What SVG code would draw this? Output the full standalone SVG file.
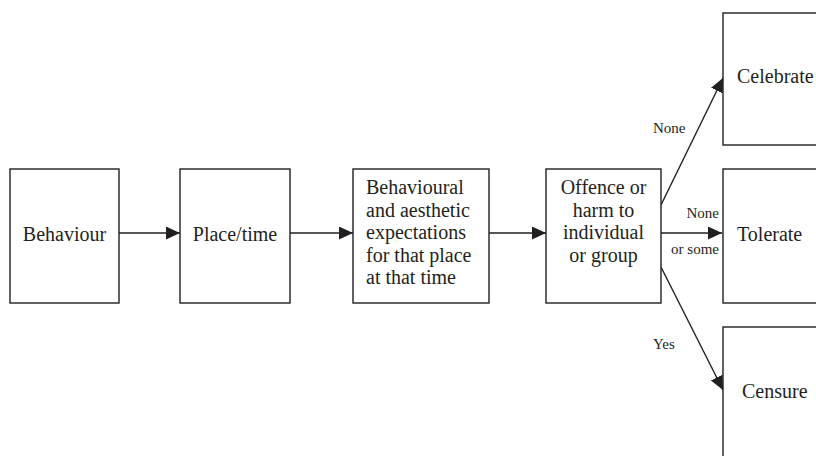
<svg xmlns="http://www.w3.org/2000/svg" width="816" height="456" viewBox="0 0 816 456">
<style>
.box{fill:#fff;stroke:#231f20;stroke-width:1.4}
.t{font-family:"Liberation Serif","Times New Roman",serif;font-size:20px;fill:#231f20}
.s{font-family:"Liberation Serif","Times New Roman",serif;font-size:15px;fill:#231f20}
.c{fill:none;stroke:#231f20;stroke-width:1.4}
</style>
<defs>
<marker id="ah" markerUnits="userSpaceOnUse" markerWidth="15" markerHeight="14" refX="14" refY="6.5" orient="auto">
<path d="M0,0 L14,6.5 L0,13 z" fill="#231f20"/>
</marker>
</defs>
<rect width="816" height="456" fill="#fff"/>
<g id="connectors">
<line class="c" x1="119" y1="233" x2="180" y2="233" marker-end="url(#ah)"/>
<line class="c" x1="290" y1="233" x2="353" y2="233" marker-end="url(#ah)"/>
<line class="c" x1="489" y1="233" x2="546" y2="233" marker-end="url(#ah)"/>
<line class="c" x1="661" y1="233" x2="722" y2="233" marker-end="url(#ah)"/>
<line class="c" x1="661" y1="205" x2="723" y2="78" marker-end="url(#ah)"/>
<line class="c" x1="661" y1="267" x2="723" y2="390" marker-end="url(#ah)"/>
<text class="s" x="653" y="133">None</text>
<text class="s" x="719" y="218" text-anchor="end">None</text>
<text class="s" x="719" y="254" text-anchor="end">or some</text>
<text class="s" x="653" y="349">Yes</text>
</g>
<g id="behaviour">
<rect class="box" x="10" y="169" width="109" height="134"/>
<text class="t" x="64.5" y="241" text-anchor="middle">Behaviour</text>
</g>
<g id="placetime">
<rect class="box" x="180" y="169" width="110" height="134"/>
<text class="t" x="235" y="241" text-anchor="middle">Place/time</text>
</g>
<g id="expectations">
<rect class="box" x="353" y="169" width="136" height="134"/>
<text class="t" x="366" y="194">Behavioural</text>
<text class="t" x="366" y="216.5">and aesthetic</text>
<text class="t" x="366" y="239">expectations</text>
<text class="t" x="366" y="261.5">for that place</text>
<text class="t" x="366" y="284">at that time</text>
</g>
<g id="offence">
<rect class="box" x="546" y="169" width="115" height="134"/>
<text class="t" x="603.5" y="194" text-anchor="middle">Offence or</text>
<text class="t" x="603.5" y="216.5" text-anchor="middle">harm to</text>
<text class="t" x="603.5" y="239" text-anchor="middle">individual</text>
<text class="t" x="603.5" y="261.5" text-anchor="middle">or group</text>
</g>
<g id="celebrate">
<rect class="box" x="723" y="13" width="120" height="132"/>
<text class="t" x="737" y="83">Celebrate</text>
</g>
<g id="tolerate">
<rect class="box" x="723" y="169" width="120" height="134"/>
<text class="t" x="737" y="241">Tolerate</text>
</g>
<g id="censure">
<rect class="box" x="723" y="327" width="120" height="160"/>
<text class="t" x="742" y="398">Censure</text>
</g>
</svg>
